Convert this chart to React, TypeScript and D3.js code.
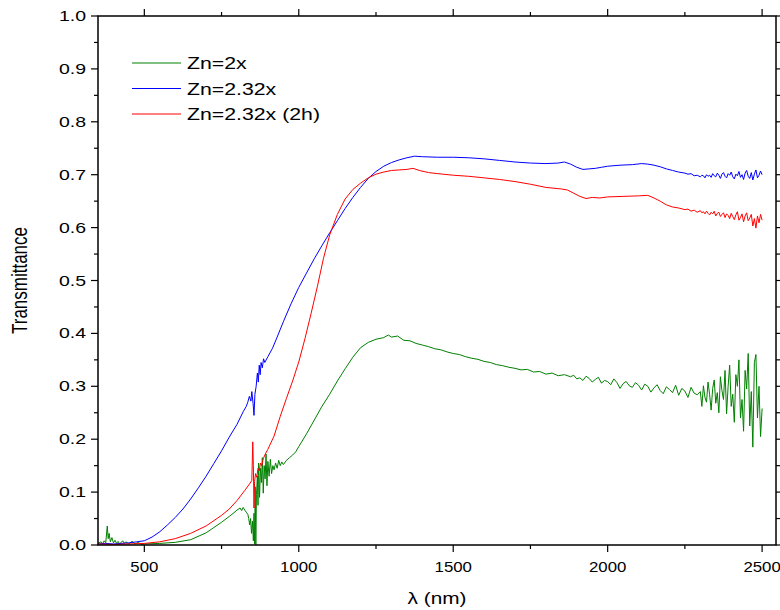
import React from 'react';
import * as d3 from 'd3';

// Zn=2x (green)
const zn2x: [number, number][] = [
  [350, 0.003], [360, 0.006], [365, 0.002], [370, 0.008], [375, 0.004], [380, 0.036], [383, 0.012], [386, 0.022],
  [390, 0.006], [395, 0.014], [400, 0.004], [405, 0.009], [410, 0.003], [415, 0.007], [420, 0.002], [430, 0.008],
  [435, 0.003], [440, 0.006], [450, 0.002], [460, 0.007], [470, 0.002], [480, 0.005], [490, 0.001], [500, 0.002],
  [550, 0.003], [600, 0.005], [650, 0.010], [700, 0.023], [725, 0.033], [750, 0.043], [775, 0.054], [790, 0.061],
  [800, 0.066], [810, 0.070], [815, 0.065], [820, 0.071], [825, 0.066], [830, 0.062], [835, 0.058], [838, 0.050],
  [841, 0.038], [844, 0.050], [847, 0.022], [850, 0.045], [853, 0.008], [855, 0.060], [857, 0.002], [859, 0.110],
  [861, 0.000], [863, 0.095], [866, 0.130], [868, 0.075], [870, 0.155], [873, 0.090], [876, 0.145], [879, 0.118],
  [882, 0.165], [885, 0.098], [888, 0.150], [891, 0.125], [894, 0.172], [897, 0.112], [900, 0.158], [904, 0.130],
  [908, 0.162], [912, 0.135], [916, 0.150], [920, 0.142], [925, 0.155], [930, 0.145], [935, 0.160], [940, 0.150],
  [945, 0.157], [950, 0.152], [960, 0.160], [970, 0.165], [980, 0.170], [990, 0.176], [1000, 0.186], [1025, 0.210],
  [1050, 0.236], [1075, 0.262], [1100, 0.285], [1125, 0.310], [1150, 0.333], [1175, 0.355], [1200, 0.373],
  [1225, 0.383], [1250, 0.389], [1275, 0.392], [1290, 0.397], [1300, 0.393], [1320, 0.395], [1340, 0.387],
  [1360, 0.386], [1380, 0.381], [1400, 0.378], [1420, 0.375], [1440, 0.371], [1460, 0.369], [1480, 0.365],
  [1500, 0.362], [1520, 0.360], [1540, 0.356], [1560, 0.353], [1580, 0.351], [1600, 0.347], [1620, 0.345],
  [1640, 0.341], [1660, 0.339], [1680, 0.336], [1700, 0.334], [1720, 0.331], [1740, 0.332], [1760, 0.327],
  [1780, 0.328], [1800, 0.323], [1820, 0.325], [1840, 0.320], [1860, 0.322], [1880, 0.318], [1890, 0.321],
  [1900, 0.314], [1910, 0.316], [1920, 0.311], [1930, 0.319], [1940, 0.315], [1950, 0.308], [1960, 0.313],
  [1970, 0.317], [1980, 0.306], [1990, 0.311], [2000, 0.309], [2010, 0.303], [2020, 0.314], [2030, 0.307],
  [2040, 0.296], [2050, 0.305], [2060, 0.309], [2070, 0.301], [2080, 0.298], [2090, 0.307], [2100, 0.302],
  [2110, 0.293], [2120, 0.304], [2130, 0.300], [2140, 0.289], [2150, 0.297], [2160, 0.303], [2170, 0.292],
  [2180, 0.286], [2190, 0.299], [2200, 0.294], [2210, 0.288], [2220, 0.302], [2230, 0.283], [2240, 0.296],
  [2250, 0.291], [2260, 0.279], [2270, 0.298], [2280, 0.287], [2290, 0.284], [2300, 0.290], [2305, 0.262],
  [2310, 0.301], [2315, 0.279], [2320, 0.270], [2325, 0.308], [2330, 0.285], [2335, 0.255], [2340, 0.296],
  [2345, 0.312], [2350, 0.268], [2355, 0.288], [2360, 0.250], [2365, 0.318], [2370, 0.292], [2375, 0.275],
  [2380, 0.330], [2385, 0.248], [2390, 0.300], [2395, 0.340], [2400, 0.262], [2405, 0.285], [2410, 0.232],
  [2415, 0.322], [2420, 0.300], [2425, 0.350], [2430, 0.240], [2435, 0.275], [2440, 0.215], [2445, 0.330],
  [2450, 0.295], [2455, 0.362], [2460, 0.225], [2465, 0.290], [2470, 0.185], [2475, 0.345], [2480, 0.360],
  [2485, 0.240], [2490, 0.300], [2495, 0.205], [2500, 0.258],
];

// Zn=2.32x (blue)
const zn232x: [number, number][] = [
  [350, 0.002], [375, 0.003], [400, 0.002], [425, 0.003], [450, 0.004], [475, 0.006], [500, 0.008], [525, 0.015],
  [550, 0.025], [575, 0.038], [600, 0.052], [625, 0.068], [650, 0.087], [675, 0.108], [700, 0.130], [725, 0.154],
  [750, 0.178], [775, 0.204], [800, 0.228], [820, 0.252], [830, 0.262], [835, 0.270], [840, 0.281], [845, 0.272],
  [848, 0.290], [852, 0.268], [855, 0.245], [858, 0.285], [862, 0.300], [866, 0.325], [869, 0.308], [872, 0.340],
  [875, 0.322], [878, 0.345], [882, 0.335], [886, 0.352], [890, 0.345], [900, 0.356], [915, 0.372], [930, 0.393],
  [950, 0.422], [975, 0.456], [1000, 0.487], [1025, 0.514], [1050, 0.541], [1075, 0.566], [1100, 0.590],
  [1125, 0.613], [1150, 0.636], [1175, 0.657], [1200, 0.676], [1225, 0.693], [1250, 0.706], [1275, 0.716],
  [1300, 0.723], [1325, 0.728], [1350, 0.732], [1375, 0.735], [1400, 0.734], [1450, 0.733], [1500, 0.733],
  [1550, 0.732], [1600, 0.730], [1650, 0.727], [1700, 0.724], [1750, 0.722], [1800, 0.721], [1840, 0.722],
  [1860, 0.724], [1880, 0.720], [1900, 0.714], [1920, 0.710], [1940, 0.711], [1960, 0.712], [1980, 0.714],
  [2000, 0.716], [2040, 0.718], [2080, 0.719], [2110, 0.721], [2130, 0.720], [2150, 0.718], [2170, 0.715],
  [2190, 0.711], [2210, 0.708], [2230, 0.705], [2250, 0.703], [2260, 0.701], [2270, 0.702], [2280, 0.698],
  [2290, 0.699], [2300, 0.696], [2305, 0.699], [2310, 0.698], [2315, 0.694], [2320, 0.700], [2325, 0.697],
  [2330, 0.699], [2335, 0.695], [2340, 0.702], [2345, 0.698], [2350, 0.696], [2355, 0.703], [2360, 0.699],
  [2365, 0.693], [2370, 0.701], [2375, 0.704], [2380, 0.697], [2385, 0.694], [2390, 0.702], [2395, 0.699],
  [2400, 0.705], [2405, 0.696], [2410, 0.692], [2415, 0.701], [2420, 0.698], [2425, 0.706], [2430, 0.695],
  [2435, 0.700], [2440, 0.691], [2445, 0.703], [2450, 0.708], [2455, 0.697], [2460, 0.693], [2465, 0.704],
  [2470, 0.690], [2475, 0.701], [2480, 0.709], [2485, 0.694], [2490, 0.699], [2495, 0.707], [2500, 0.700],
];

// Zn=2.32x (2h) (red)
const zn232x2h: [number, number][] = [
  [350, 0.002], [400, 0.001], [450, 0.002], [500, 0.003], [550, 0.006], [600, 0.012], [650, 0.022], [700, 0.036],
  [750, 0.056], [775, 0.068], [800, 0.084], [825, 0.103], [840, 0.115], [848, 0.122], [851, 0.195], [853, 0.150],
  [855, 0.070], [857, 0.120], [860, 0.135], [864, 0.128], [868, 0.145], [872, 0.140], [876, 0.155], [880, 0.150],
  [885, 0.163], [890, 0.170], [900, 0.181], [920, 0.206], [940, 0.243], [960, 0.277], [980, 0.310], [1000, 0.346],
  [1020, 0.390], [1040, 0.438], [1060, 0.488], [1080, 0.542], [1100, 0.586], [1125, 0.625], [1150, 0.654],
  [1175, 0.672], [1200, 0.684], [1225, 0.694], [1250, 0.701], [1275, 0.705], [1300, 0.708], [1325, 0.709],
  [1350, 0.710], [1370, 0.712], [1390, 0.708], [1420, 0.704], [1450, 0.702], [1500, 0.699], [1550, 0.697],
  [1600, 0.694], [1650, 0.691], [1700, 0.687], [1750, 0.682], [1800, 0.676], [1850, 0.673], [1870, 0.671],
  [1890, 0.665], [1910, 0.659], [1930, 0.655], [1950, 0.657], [1975, 0.656], [2000, 0.658], [2050, 0.659],
  [2100, 0.660], [2130, 0.661], [2150, 0.656], [2170, 0.650], [2190, 0.643], [2210, 0.639], [2230, 0.637],
  [2250, 0.634], [2260, 0.635], [2270, 0.631], [2280, 0.633], [2290, 0.629], [2300, 0.632], [2305, 0.628],
  [2310, 0.630], [2315, 0.626], [2320, 0.631], [2325, 0.627], [2330, 0.624], [2335, 0.629], [2340, 0.626],
  [2345, 0.631], [2350, 0.622], [2355, 0.627], [2360, 0.629], [2365, 0.621], [2370, 0.625], [2375, 0.628],
  [2380, 0.619], [2385, 0.626], [2390, 0.623], [2395, 0.617], [2400, 0.627], [2405, 0.621], [2410, 0.615],
  [2415, 0.624], [2420, 0.630], [2425, 0.614], [2430, 0.619], [2435, 0.626], [2440, 0.611], [2445, 0.622],
  [2450, 0.628], [2455, 0.613], [2460, 0.618], [2465, 0.625], [2470, 0.603], [2475, 0.617], [2480, 0.599],
  [2485, 0.622], [2490, 0.609], [2495, 0.625], [2500, 0.614],
];

const seriesNames = ['Zn=2x', 'Zn=2.32x', 'Zn=2.32x (2h)'];
const seriesColors = ['#008000', '#0000ff', '#ff0000'];
const xTicks = [500, 1000, 1500, 2000, 2500];
const xMinorTicks = [750, 1250, 1750, 2250];
const yTicks = [0, 0.1, 0.2, 0.3, 0.4, 0.5, 0.6, 0.7, 0.8, 0.9, 1.0];

const W = 780;
const H = 610;
const left = 98, top = 16, right = 776, bottom = 545;
const font = 'Arial, "Liberation Sans", sans-serif';

export default function App() {
  const x = d3.scaleLinear().domain([350, 2545]).range([left, right]);
  const y = d3.scaleLinear().domain([0, 1]).range([bottom, top]);
  const line = d3.line<[number, number]>().x(d => x(d[0])).y(d => y(d[1]));
  const yMinor = d3.range(0.05, 1, 0.1);
  const series = [zn2x, zn232x, zn232x2h];

  return (
    <svg width={W} height={H} style={{ position: 'absolute', left: 0, top: 0, background: '#fff' }}>
      <g fill="none" strokeWidth={1}>
        {series.map((s, i) => (
          <path key={i} d={line(s) || ''} stroke={seriesColors[i]} strokeLinejoin="round" />
        ))}
      </g>

      {/* frame */}
      <rect x={left} y={top} width={right - left} height={bottom - top} fill="none" stroke="#000" strokeWidth={1.5} />

      {/* ticks on all four sides, pointing out */}
      <g stroke="#000" strokeWidth={1.2}>
        {xTicks.map(t => (
          <g key={t}>
            <line x1={x(t)} x2={x(t)} y1={bottom} y2={bottom + 7} />
            <line x1={x(t)} x2={x(t)} y1={top} y2={top - 7} />
          </g>
        ))}
        {xMinorTicks.map(t => (
          <g key={t}>
            <line x1={x(t)} x2={x(t)} y1={bottom} y2={bottom + 4} />
            <line x1={x(t)} x2={x(t)} y1={top} y2={top - 4} />
          </g>
        ))}
        {yTicks.map(t => (
          <g key={t}>
            <line x1={left} x2={left - 7} y1={y(t)} y2={y(t)} />
            <line x1={right} x2={right + 7} y1={y(t)} y2={y(t)} />
          </g>
        ))}
        {yMinor.map(t => (
          <g key={t}>
            <line x1={left} x2={left - 4} y1={y(t)} y2={y(t)} />
            <line x1={right} x2={right + 4} y1={y(t)} y2={y(t)} />
          </g>
        ))}
      </g>

      {/* tick labels */}
      <g fontFamily={font} fontSize={15} fill="#000">
        {xTicks.map(t => (
          <text key={t} transform={`translate(${x(t)},${bottom + 27}) scale(1.12,1)`} textAnchor="middle">{t}</text>
        ))}
        {yTicks.map(t => (
          <text key={t} transform={`translate(${left - 12},${y(t) + 5}) scale(1.3,1)`} textAnchor="end">{t.toFixed(1)}</text>
        ))}
      </g>

      {/* axis titles */}
      <text transform={`translate(${(left + right) / 2},${H - 6}) scale(1.3,1)`} textAnchor="middle"
        fontFamily={font} fontSize={16}>λ (nm)</text>
      <text transform={`translate(27,${(top + bottom) / 2}) scale(1.3,1) rotate(-90)`} textAnchor="middle"
        fontFamily={font} fontSize={17}>Transmittance</text>

      {/* legend */}
      <g fontFamily={font} fontSize={16}>
        {seriesNames.map((n, i) => (
          <g key={n} transform={`translate(132,${63 + i * 25.5})`}>
            <line x1={0} x2={49} y1={0} y2={0} stroke={seriesColors[i]} strokeWidth={1} />
            <text transform="translate(55,6) scale(1.33,1)">{n}</text>
          </g>
        ))}
      </g>
    </svg>
  );
}
